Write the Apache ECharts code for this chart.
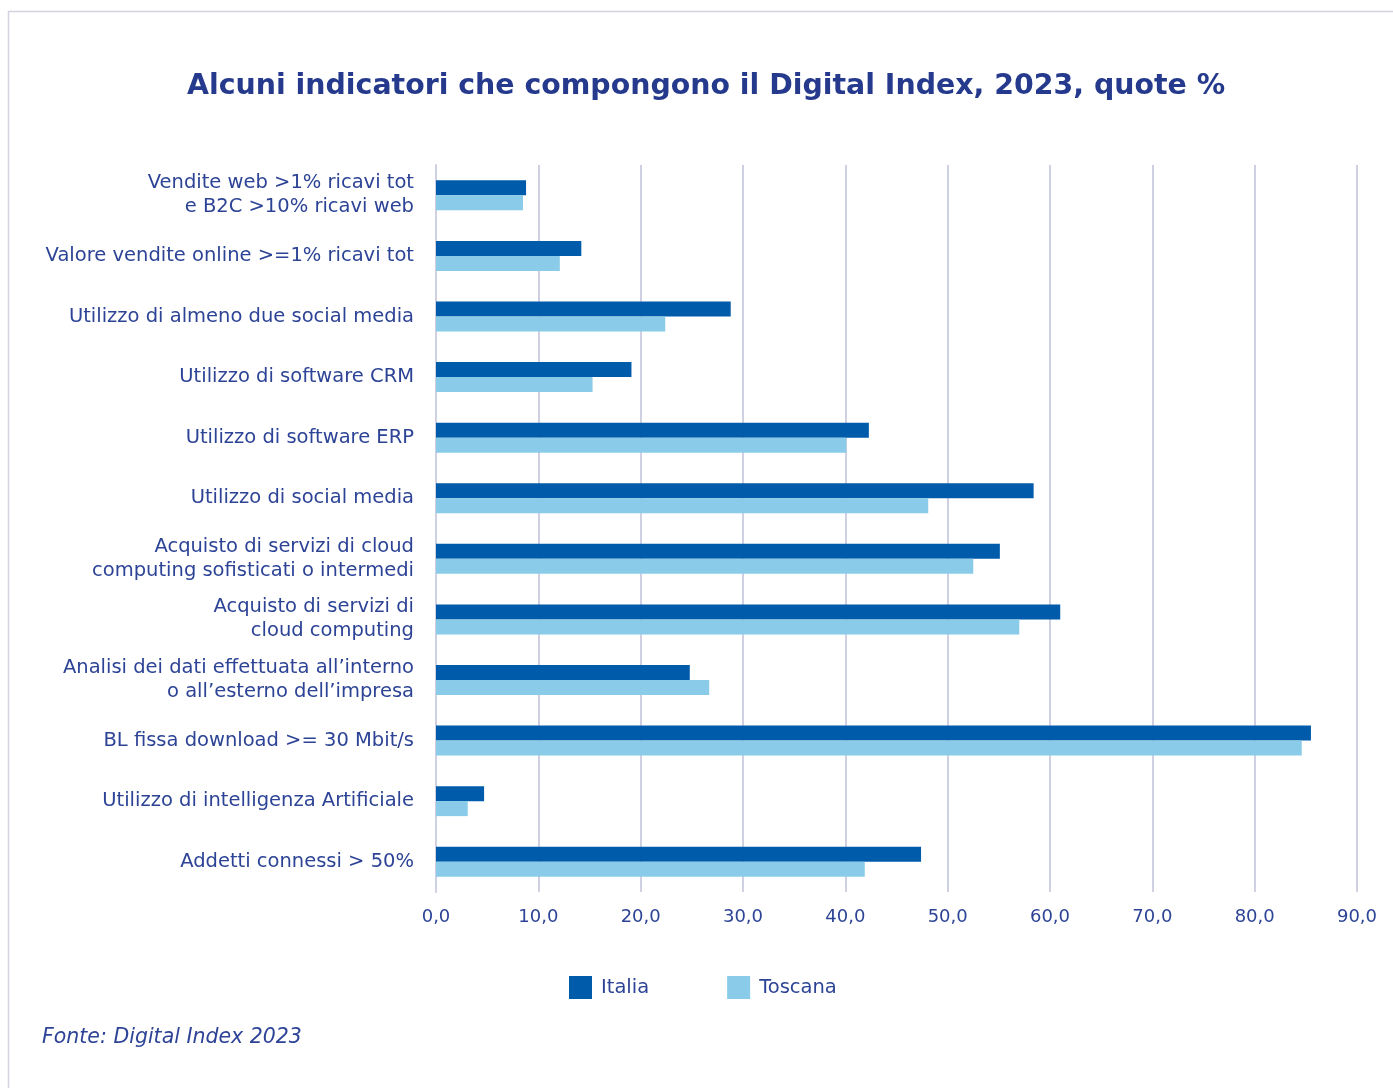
<!DOCTYPE html>
<html>
<head>
<meta charset="utf-8">
<title>Digital Index 2023</title>
<script src="https://cdn.jsdelivr.net/npm/echarts@6/dist/echarts.min.js"></script>
<style>
  html, body { margin: 0; padding: 0; background: #ffffff; }
  #chart { width: 1393px; height: 1088px; }
</style>
</head>
<body>
<div id="chart"></div>
<script>
// Indicator labels, top to bottom
const categories = [
  'Vendite web >1% ricavi tot\ne B2C >10% ricavi web',
  'Valore vendite online >=1% ricavi tot',
  'Utilizzo di almeno due social media',
  'Utilizzo di software CRM',
  'Utilizzo di software ERP',
  'Utilizzo di social media',
  'Acquisto di servizi di cloud\ncomputing sofisticati o intermedi',
  'Acquisto di servizi di\ncloud computing',
  'Analisi dei dati effettuata all\u2019interno\no all\u2019esterno dell\u2019impresa',
  'BL fissa download >= 30 Mbit/s',
  'Utilizzo di intelligenza Artificiale',
  'Addetti connessi > 50%'
];

// Shares (%) of enterprises
const italia  = [8.8, 14.2, 28.8, 19.1, 42.3, 58.4, 55.1, 61.0, 24.8, 85.5, 4.7, 47.4];
const toscana = [8.5, 12.1, 22.4, 15.3, 40.1, 48.1, 52.5, 57.0, 26.7, 84.6, 3.1, 41.9];

const seriesNames = ['Italia', 'Toscana'];
const xTicks = { min: 0, max: 90, step: 10 };

const TEXT = '#2d4496';
const FONT = '"DejaVu Sans", "Noto Sans", sans-serif';

const chart = echarts.init(document.getElementById('chart'), null, { renderer: 'canvas' });

chart.setOption({
  backgroundColor: '#ffffff',
  animation: false,
  textStyle: { fontFamily: FONT, color: TEXT },
  graphic: [
    {
      type: 'rect',
      shape: { x: 8.5, y: 11.5, width: 1400, height: 1100 },
      style: { fill: 'none', stroke: '#d3d3e3', lineWidth: 1.5 },
      silent: true
    },
    {
      type: 'text',
      left: 42,
      top: 1028,
      style: {
        text: 'Fonte: Digital Index 2023',
        font: 'italic 20.5px ' + FONT,
        fill: TEXT
      }
    }
  ],
  title: {
    text: 'Alcuni indicatori che compongono il Digital Index, 2023, quote %',
    left: 182,
    top: 68,
    textStyle: {
      fontFamily: FONT,
      fontWeight: 'bold',
      fontSize: 28.4,
      color: '#253a8c'
    }
  },
  legend: {
    data: seriesNames,
    bottom: 84,
    left: 564,
    itemWidth: 23,
    itemHeight: 23,
    itemGap: 78,
    icon: 'rect',
    textStyle: { fontFamily: FONT, fontSize: 19.5, color: TEXT, padding: [0, 0, 0, 4] }
  },
  grid: {
    left: 436,
    right: 36,
    top: 165,
    bottom: 196,
    containLabel: false
  },
  xAxis: {
    type: 'value',
    min: xTicks.min,
    max: xTicks.max,
    interval: xTicks.step,
    axisLine: { show: false },
    axisTick: { show: false },
    splitLine: { show: true, lineStyle: { color: '#cfd0e2', width: 2 } },
    axisLabel: {
      fontFamily: FONT,
      fontSize: 18,
      color: TEXT,
      margin: 16,
      formatter: v => v.toFixed(1).replace('.', ',')
    }
  },
  yAxis: {
    type: 'category',
    data: categories,
    inverse: true,
    axisLine: { show: true, lineStyle: { color: '#cfd0e2', width: 2 } },
    axisTick: { show: false },
    axisLabel: {
      fontFamily: FONT,
      fontSize: 19.5,
      color: TEXT,
      margin: 22,
      lineHeight: 24,
      align: 'right'
    }
  },
  series: [
    {
      name: seriesNames[0],
      type: 'bar',
      data: italia,
      barWidth: 15,
      barGap: '0%',
      itemStyle: { color: '#005bab' }
    },
    {
      name: seriesNames[1],
      type: 'bar',
      data: toscana,
      barWidth: 15,
      barGap: '0%',
      itemStyle: { color: '#89cbe8' }
    }
  ]
});
</script>
</body>
</html>
